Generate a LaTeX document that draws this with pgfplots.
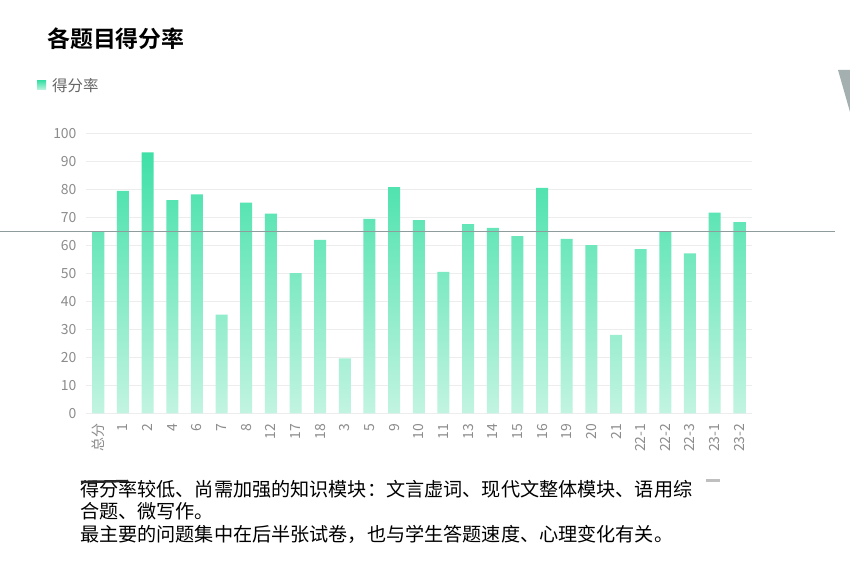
\documentclass[border=0pt]{standalone}
\usepackage{fontspec}
\setmainfont{Noto Sans CJK SC}[BoldFont={Noto Sans CJK SC Bold}]
\usepackage{pgfplots}
\pgfplotsset{compat=1.18}
\definecolor{barTop}{HTML}{3FE0A8}
\definecolor{barBot}{HTML}{C2F4E1}
\definecolor{tickgrey}{HTML}{8C8C8C}
\definecolor{gridgrey}{HTML}{EDEDED}
\definecolor{legendgreen}{HTML}{5FE0B4}
\definecolor{scanline}{HTML}{8E9C9C}
\begin{document}
\begin{tikzpicture}
\path[use as bounding box, fill=white] (0,0) rectangle (850bp,577bp);
% title and notes
\node[anchor=base west, inner sep=0pt, font=\fontsize{23}{28}\selectfont\bfseries] at (47bp,529.5bp) {各题目得分率};
\begin{axis}[
  at={(86bp,163.7bp)}, anchor=south west,
  width=665.6bp, height=280bp, scale only axis,
  xmin=-0.5, xmax=26.5, ymin=0, ymax=100,
  axis line style={draw=none},
  ytick={0,10,...,100},
  xtick={0,...,26},
  xticklabels={总分,1,2,4,6,7,8,12,17,18,3,5,9,10,11,13,14,15,16,19,20,21,22-1,22-2,22-3,23-1,23-2},
  ymajorgrids, grid style={gridgrey, line width=0.7bp},
  /pgf/number format/assume math mode=true,
  tick label style={font=\fontsize{14}{16}\selectfont, text=tickgrey},
  yticklabel style={anchor=east, xshift=-6bp},
  % shift is taken in the rotated frame: negative x moves the label down
  xticklabel style={rotate=90, anchor=east, xshift=-7bp},
  major tick length=0pt,
  tick style={draw=none},
  legend style={at={(axis description cs:-0.0736,1.1707)}, anchor=west,
    draw=none, fill=none, inner sep=0pt,
    font=\fontsize{15.5}{17}\selectfont, text=black!60},
  legend image code/.code={\fill[legendgreen] (0bp,-4.5bp) rectangle (9bp,4.5bp);
    \path (0bp,0bp) -- (13bp,0bp);},
]
\addplot[ybar, bar width=12bp, draw=none, top color=barTop, bottom color=barBot] coordinates {
(0,65.0) (1,79.4) (2,93.2) (3,76.1) (4,78.2) (5,35.2) (6,75.2) (7,71.3) (8,50.1)
(9,61.9) (10,19.6) (11,69.4) (12,80.8) (13,69.0) (14,50.5) (15,67.6) (16,66.2)
(17,63.3) (18,80.5) (19,62.3) (20,60.1) (21,28.0) (22,58.6) (23,64.8) (24,57.1)
(25,71.7) (26,68.3)};
\addlegendentry{得分率}
\end{axis}
% scan artefacts of the screenshot
\draw[scanline, line width=0.8bp] (0bp,346bp) -- (835bp,346bp);
\fill[scanline!80] (838bp,507bp) -- (850bp,507bp) -- (850bp,465bp) -- cycle;
\node[anchor=base west, inner sep=0pt, font=\fontsize{19.2}{23}\selectfont] at (80bp,80.8bp) {得分率较低、尚需加强的知识模块：文言虚词、现代文整体模块、语用综};
\node[anchor=base west, inner sep=0pt, font=\fontsize{19.2}{23}\selectfont] at (80bp,58.8bp) {合题、微写作。};
\node[anchor=base west, inner sep=0pt, font=\fontsize{19.2}{23}\selectfont] at (80bp,35.8bp) {最主要的问题集中在后半张试卷，也与学生答题速度、心理变化有关。};
\draw[black!85, line width=2.5bp] (81bp,95bp) -- (128bp,96bp);
\fill[black!25] (706bp,95bp) rectangle (720bp,98bp);
\end{tikzpicture}
\end{document}
